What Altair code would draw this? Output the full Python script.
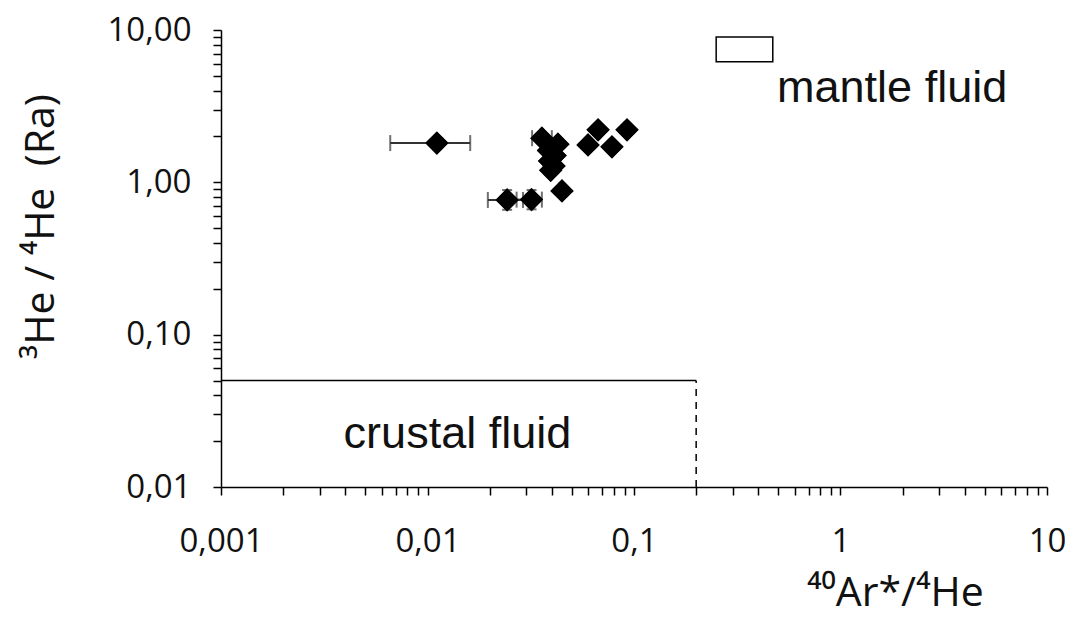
import altair as alt
import pandas as pd

# ---- data ----
pt_x = [0.0111, 0.0243, 0.0319, 0.0448, 0.0358, 0.0428, 0.0385, 0.0415, 0.0390,
        0.0410, 0.0395, 0.0599, 0.0670, 0.0782, 0.0925]
pt_y = [1.81, 0.766, 0.77, 0.878, 1.95, 1.78, 1.62, 1.50, 1.38,
        1.28, 1.20, 1.76, 2.21, 1.71, 2.21]

# horizontal error bars (x low, x high, y)
ex_lo = [0.0066, 0.0196, 0.0270, 0.0321]
ex_hi = [0.0161, 0.0290, 0.0358, 0.0400]
ex_y = [1.81, 0.766, 0.77, 1.95]

# vertical error bars (x, y low, y high)
ey_x = [0.0243, 0.0319]
ey_lo = [0.66, 0.665]
ey_hi = [0.89, 0.89]

# field boxes
crust_x = [0.001, 0.2]
crust_y = [0.01, 0.05]
mantle_x = [0.25, 0.47]
mantle_y = [6.2, 9.0]

labels_txt = ["mantle fluid", "crustal fluid"]
labels_x = [0.493, 0.01396]
labels_y = [3.37, 0.01803]

x_tick_vals = [0.001, 0.002, 0.003, 0.004, 0.005, 0.006, 0.007, 0.008, 0.009,
               0.01, 0.02, 0.03, 0.04, 0.05, 0.06, 0.07, 0.08, 0.09,
               0.1, 0.2, 0.3, 0.4, 0.5, 0.6, 0.7, 0.8, 0.9,
               1, 2, 3, 4, 5, 6, 7, 8, 9, 10]
x_major = [0.001, 0.01, 0.1, 1, 10]
x_major_lab = ["0,001", "0,01", "0,1", "1", "10"]
y_tick_vals = [0.01, 0.02, 0.03, 0.04, 0.05, 0.06, 0.07, 0.08, 0.09,
               0.1, 0.2, 0.3, 0.4, 0.5, 0.6, 0.7, 0.8, 0.9,
               1, 2, 3, 4, 5, 6, 7, 8, 9, 10]
y_major = [0.01, 0.1, 1, 10]
y_major_lab = ["0,01", "0,10", "1,00", "10,00"]


def label_expr(vals, labs):
    s = " : ".join(f"datum.value == {v} ? '{l}'" for v, l in zip(vals, labs))
    return s + " : ''"


xs = alt.Scale(type="log", domain=[0.001, 10], nice=False)
ys = alt.Scale(type="log", domain=[0.01, 10], nice=False)

pts = pd.DataFrame({"x": pt_x, "y": pt_y})
exb = pd.DataFrame({"x": ex_lo, "x2": ex_hi, "y": ex_y})
exc = pd.DataFrame({"x": ex_lo + ex_hi, "y": ex_y + ex_y})
eyb = pd.DataFrame({"x": ey_x, "y": ey_lo, "y2": ey_hi})
eyc = pd.DataFrame({"x": ey_x + ey_x, "y": ey_lo + ey_hi})
crust_top = pd.DataFrame({"x": [crust_x[0]], "x2": [crust_x[1]], "y": [crust_y[1]]})
crust_side = pd.DataFrame({"x": [crust_x[1]], "y": [crust_y[0]], "y2": [crust_y[1]]})
mantle = pd.DataFrame({"x": [mantle_x[0]], "x2": [mantle_x[1]],
                       "y": [mantle_y[0]], "y2": [mantle_y[1]]})
lab = pd.DataFrame({"x": labels_x, "y": labels_y, "t": labels_txt})

x_axis = alt.Axis(values=x_tick_vals, labelExpr=label_expr(x_major, x_major_lab),
                  title="⁴⁰Ar*/⁴He", titleX=674, titleY=118, titleAlign="center",
                  titleBaseline="alphabetic", labelPadding=30, labelOverlap=False,
                  labelFlush=False, grid=False)
y_axis = alt.Axis(values=y_tick_vals, labelExpr=label_expr(y_major, y_major_lab),
                  title="³He / ⁴He\u00a0\u00a0(Ra)", titleX=-168, titleY=196,
                  titleAngle=-90, titleAlign="center", titleBaseline="alphabetic",
                  labelPadding=22, labelOverlap=False, labelFlush=False, grid=False)

points = alt.Chart(pts).mark_point(shape="diamond", filled=True, size=540,
                                   color="black", opacity=1).encode(
    x=alt.X("x:Q", scale=xs, axis=x_axis),
    y=alt.Y("y:Q", scale=ys, axis=y_axis),
)

err_h = alt.Chart(exb).mark_rule(color="#333", strokeWidth=2).encode(
    x=alt.X("x:Q", scale=xs), x2="x2:Q", y=alt.Y("y:Q", scale=ys))
err_hc = alt.Chart(exc).mark_tick(color="#333", orient="vertical", size=16,
                                  thickness=2).encode(
    x=alt.X("x:Q", scale=xs), y=alt.Y("y:Q", scale=ys))
err_v = alt.Chart(eyb).mark_rule(color="#333", strokeWidth=2).encode(
    x=alt.X("x:Q", scale=xs), y=alt.Y("y:Q", scale=ys), y2="y2:Q")
err_vc = alt.Chart(eyc).mark_tick(color="#333", orient="horizontal", size=10,
                                  thickness=2).encode(
    x=alt.X("x:Q", scale=xs), y=alt.Y("y:Q", scale=ys))

c_top = alt.Chart(crust_top).mark_rule(color="black", strokeWidth=1.5).encode(
    x=alt.X("x:Q", scale=xs), x2="x2:Q", y=alt.Y("y:Q", scale=ys))
c_side = alt.Chart(crust_side).mark_rule(color="black", strokeWidth=1.5,
                                         strokeDash=[7, 6]).encode(
    x=alt.X("x:Q", scale=xs), y=alt.Y("y:Q", scale=ys), y2="y2:Q")
m_box = alt.Chart(mantle).mark_rect(fill="white", stroke="black",
                                    strokeWidth=1.5).encode(
    x=alt.X("x:Q", scale=xs), x2="x2:Q", y=alt.Y("y:Q", scale=ys), y2="y2:Q")

txt_m = alt.Chart(lab.iloc[[0]]).mark_text(font="Liberation Sans", fontSize=45,
                                          align="left", baseline="alphabetic",
                                          color="#111").encode(
    x=alt.X("x:Q", scale=xs), y=alt.Y("y:Q", scale=ys), text="t:N")
txt_c = alt.Chart(lab.iloc[[1]]).mark_text(font="Liberation Sans", fontSize=45,
                                          align="center", baseline="alphabetic",
                                          color="#111").encode(
    x=alt.X("x:Q", scale=xs), y=alt.Y("y:Q", scale=ys), text="t:N")

chart = alt.layer(points, c_top, c_side, m_box, txt_m, txt_c,
                  err_h, err_hc, err_v, err_vc, points).properties(
    width=826, height=457,
    autosize=alt.AutoSizeParams(type="none"),
    padding={"left": 213, "top": 22, "right": 18, "bottom": 130},
).configure_view(stroke=None).configure_axis(
    domainColor="black", domainWidth=1.5, tickColor="black", tickWidth=1.5,
    tickSize=8, labelFont="Open Sans", labelFontSize=33, labelColor="#111",
    titleFont="Open Sans", titleFontSize=41, titleFontWeight="normal",
    titleColor="#111",
)

chart.save("out.html", embed_options={"renderer": "svg", "actions": False})
